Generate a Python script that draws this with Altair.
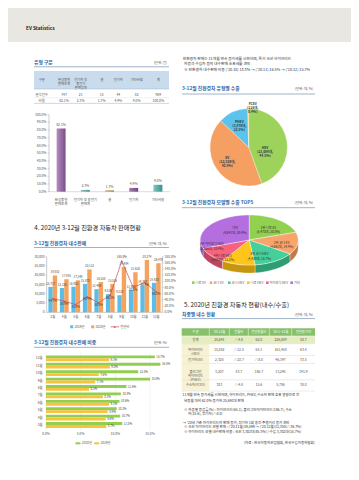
import altair as alt
import numpy as np
import pandas as pd

FONT = "Noto Sans CJK KR"
MARGIN = 8
W, H = 343, 464


def X(v):
    return v - MARGIN


def Y(v):
    return v - MARGIN


# ---------------------------------------------------------------- data
type_cats = ["완성품형 판매조계", "전기차 및 충전기 판매계", "셀", "전기차", "기타사항"]
type_cat_text = ["완성품형\n판매조계", "전기차 및 충전기\n판매계", "셀", "전기차", "기타사항"]
type_counts = [747, 21, 15, 44, 82]
type_share = [82.1, 2.3, 1.7, 4.9, 9.0]
type_total = 909
table1_head = ["구분", "완성품형\n판매조계", "전기차 및\n충전기\n판매업체", "셀", "전기차", "기타사항", "계"]
table1_rows = ["분석건수", "비율"]

exp_types = ["HEV", "EV", "PHEV", "FCEV"]
exp_units = [13086, 12528, 3678, 118]
exp_share = [44.5, 42.6, 12.5, 0.4]

models = ["니로 EV", "코나 EV", "코나 HEV", "니로 HEV", "아이오닉 HEV", "기타"]
model_rank = ["1위 니로 EV", "2위 코나 EV", "3위 코나 HEV", "4위 니로 HEV", "5위 아이오닉 HEV", "기타"]
model_units = [6473, 4661, 4435, 3593, 3366, 9841]
model_share = [20.0, 14.4, 13.7, 11.1, 10.4, 30.4]

months = ["3월", "4월", "5월", "6월", "7월", "8월", "9월", "10월", "11월", "12월"]
sales_2019 = [13717, 13138, 13802, 15370, 12499, 9826, 9210, 11973, 14397, 15920]
sales_2020 = [19852, 17855, 17249, 23113, 16323, 15326, 24484, 21620, 28274, 26478]
yoy = [44.7, 35.9, 25.0, 50.4, 30.6, 56.0, 165.8, 80.6, 96.4, 66.3]
left_ticks = [0, 5000, 10000, 15000, 20000, 25000, 30000]
right_ticks = [0, 20, 40, 60, 80, 100, 120, 140, 160, 180]

share_months = ["12월", "11월", "10월", "9월", "8월", "7월", "6월", "5월", "4월", "3월"]
share_2020 = [15.7, 16.5, 13.3, 15.0, 11.6, 10.8, 10.6, 10.2, 10.7, 11.0]
share_2019 = [9.1, 9.2, 7.6, 7.1, 6.2, 8.2, 9.1, 8.9, 8.6, 8.7]
share_ticks = [0, 5, 10, 15]

t2_head = ["구 분", "'20.12월", "전월비", "전년동월비", "'20.1~12월", "전년동기비"]
t2_labels = ["합계", "하이브리드\n(HEV)", "전기차(EV)", "플러그인\n하이브리드\n(PHEV)", "수소차(FCEV)"]
t2_values = [
    ["25,691", "△4.8", "62.0", "226,889", "58.7"],
    ["15,882", "△12.5", "65.1", "161,450", "63.4"],
    ["2,328", "△33.7", "△8.0", "46,197", "33.5"],
    ["3,207", "83.7", "186.7", "13,295", "191.9"],
    ["323", "△4.8", "15.6", "5,786", "38.0"],
]

intro_lines = [
    "친환경차 판매는 11개월 연속 증가세를 시현하며, 특히 국산 하이브리드",
    "차종과 수입차 등의 내수판매 호조세를 견인",
    "※ 친환경차 내수판매 비중 ('20.10) 13.3% → ('20.11) 16.5% → ('20.12) 15.7%",
]
note_lines = [
    "11개월 연속 증가세를 시현하며, 하이브리드, PHEV, 수소차 판매 호조 영향으로 전",
    "년동월 대비 62.0% 증가한 25,691대 판매",
    "※ 차종별 증감률(%) : 하이브리드(65.1), 플러그인하이브리드(186.7), 수소",
    "차(15.6), 전기차(△8.0)",
    "→ '20년 기준 하이브리드차 판매 증가, 전기차 1회 충전 주행거리 증가 견인",
    "※ 국산 하이브리드 모델 판매 : ('20.11월)19,499 → ('20.12월)12,350(△36.7%)",
    "※ 하이브리드 모델 내수판매 비중 : 국산 3,302대(85.3%) / 수입 3,302대(14.7%)",
]
source_text = "(자료 : 한국자동차산업협회, 한국수입자동차협회)"

# ---------------------------------------------------------------- styles
TITLE_C = "#2f67a8"
GREY = "#555555"
DARK = "#333333"
RULE_C = "#9fb2c8"
BAR1_LIGHT = ["#b58dc0", "#84cbc4", "#e0a865", "#a67db0", "#7ec8c2"]
BAR1_DARK = ["#7a4d88", "#3f928b", "#a86d2c", "#6f4580", "#3d8f89"]
PIE1_COLORS = ["#9dd35b", "#f59f62", "#5cc3ec", "#f2c94c"]
PIE2_COLORS = ["#92d050", "#f8a56c", "#45cf9b", "#ffc51a", "#f7627f", "#b46ee0"]
PIE2_SIDE = ["#6e9d3c", "#c07a4c", "#2f9c74", "#c7960f", "#bd4760", "#8750ab"]
C2019, C2020, CLINE = "#5bbde8", "#f4a25c", "#c8504f"
HB2020, HB2019 = "#92cf4f", "#f8c23e"

layers = []
ONE = pd.DataFrame({"k": [0]})


def add(ch):
    layers.append(ch)


def txt(x, y, s, size=3.8, color=GREY, weight="normal", align="left", baseline="middle", lh=None):
    kw = dict(text=s, fontSize=size, color=color, fontWeight=weight, align=align,
              baseline=baseline, font=FONT)
    if "\n" in s:
        kw["lineBreak"] = "\n"
        kw["lineHeight"] = lh or size * 1.2
    add(alt.Chart(ONE).mark_text(**kw).encode(x=alt.value(X(x)), y=alt.value(Y(y))))


def box(x1, y1, x2, y2, color):
    add(alt.Chart(ONE).mark_rect(color=color).encode(
        x=alt.value(X(x1)), x2=alt.value(X(x2)), y=alt.value(Y(y1)), y2=alt.value(Y(y2))))


def rule(x1, y1, x2, y2, color, w=0.6):
    add(alt.Chart(ONE).mark_rule(color=color, strokeWidth=w).encode(
        x=alt.value(X(x1)), x2=alt.value(X(x2)), y=alt.value(Y(y1)), y2=alt.value(Y(y2))))


def section_title(x, y, s, unit, xr, yl):
    txt(x, y, s, size=4.8, color=TITLE_C, weight="bold")
    txt(xr, y, unit, size=3.4, color=GREY, align="right")
    rule(x, yl, xr + 2, yl, RULE_C, 1.0)


# ---------------------------------------------------------------- header band
box(0, MARGIN, 359, 42, "#e8e7e2")
txt(26, 29, "EV Statistics", size=4.8, color="#222222", weight="bold")

# ---------------------------------------------------------------- table 1
section_title(34, 62.7, "유형 구분", "(단위: 건)", 167, 66.8)
box(34, 71, 169, 89, "#c9dcee")
col_x = [41.7, 64, 80.7, 101.7, 118.3, 136.7, 158.3]
for cx, h in zip(col_x, table1_head):
    txt(cx, 80, h, size=3.3, color=GREY, align="center")
row1 = [table1_rows[0]] + [str(v) for v in type_counts] + [str(type_total)]
row2 = [table1_rows[1]] + [f"{v:.1f}%" for v in type_share] + [f"{sum(type_share):.1f}%"]
for cx, s in zip(col_x, row1):
    txt(cx, 95, s, size=3.4, color=GREY, align="center")
for cx, s in zip(col_x, row2):
    txt(cx, 100.6, s, size=3.4, color=GREY, align="center")
rule(34, 89, 169, 89, "#9fb2c8", 0.5)
rule(34, 97.8, 169, 97.8, "#d8dde3", 0.4)
rule(34, 103.4, 169, 103.4, "#9fb2c8", 0.5)

# ---------------------------------------------------------------- bar chart 1
df_t = pd.DataFrame({"cat": type_cats, "txt": type_cat_text, "v": type_share})
df_t["lab"] = df_t["v"].map(lambda v: f"{v:.1f}%")
xs1 = alt.Scale(domain=type_cats, range=[X(49), X(170)], paddingInner=0.63, paddingOuter=0.315)
ys1 = alt.Scale(domain=[0, 100], range=[Y(191.7), Y(114.7)])
df_t1 = pd.DataFrame({"t": list(range(0, 101, 10))})
df_t1["lab"] = df_t1["t"].map(lambda v: f"{v:.1f}%")
add(alt.Chart(df_t1).mark_text(align="right", baseline="middle", fontSize=3.4, color=GREY, font=FONT).encode(
    x=alt.value(X(46.5)), y=alt.Y("t:Q", scale=ys1, axis=None), text="lab:N"))
add(alt.Chart(df_t1).mark_rule(color="#999999", strokeWidth=0.4).encode(
    x=alt.value(X(47.6)), x2=alt.value(X(49)), y=alt.Y("t:Q", scale=ys1, axis=None)))
rule(49, 114.7, 49, 191.7, "#999999", 0.5)
rule(49, 191.7, 170, 191.7, "#bbbbbb", 0.5)
for cat, lc, dc in zip(type_cats, BAR1_LIGHT, BAR1_DARK):
    grad = alt.Gradient(gradient="linear", x1=0, x2=1, y1=0, y2=0,
                        stops=[alt.GradientStop(color=lc, offset=0),
                               alt.GradientStop(color=dc, offset=1)])
    add(alt.Chart(df_t).transform_filter(alt.datum.cat == cat).mark_bar(color=grad).encode(
        x=alt.X("cat:N", scale=xs1, axis=None, sort=None),
        y=alt.Y("v:Q", scale=ys1, axis=None)))
add(alt.Chart(df_t).mark_text(baseline="bottom", dy=-1.5, fontSize=3.4, color=GREY, font=FONT).encode(
    x=alt.X("cat:N", scale=xs1, axis=None, sort=None),
    y=alt.Y("v:Q", scale=ys1, axis=None), text="lab:N"))
add(alt.Chart(df_t).mark_text(baseline="top", fontSize=3.4, color=GREY, font=FONT, lineBreak="\n",
                               lineHeight=4.6).encode(
    x=alt.X("cat:N", scale=xs1, axis=None, sort=None), y=alt.value(Y(197.5)), text="txt:N"))

# ---------------------------------------------------------------- intro text (right)
for i, s in enumerate(intro_lines):
    txt(182.7 if i == 0 else 184, 59 + i * 5.4, s, size=3.75, color=DARK)

# ---------------------------------------------------------------- pie 1
section_title(182, 89.3, "3-12월 친환경차 유형별 수출", "(단위: 대, %)", 313, 94)
df_e = pd.DataFrame({"type": exp_types, "units": exp_units, "share": exp_share,
                     "idx": list(range(len(exp_types)))})
add(alt.Chart(df_e).mark_arc(outerRadius=38.7, stroke="white", strokeWidth=0.3).encode(
    theta=alt.Theta("units:Q", stack=True),
    order=alt.Order("idx:Q"),
    color=alt.Color("type:N", scale=alt.Scale(domain=exp_types, range=PIE1_COLORS), legend=None),
    x=alt.value(X(248.7)), y=alt.value(Y(147.3))))
pie1_lab_pos = [(265, 148.3), (227.3, 157.7), (239.3, 121.5), (252.7, 104.3)]
for (lx, ly), t, u, s in zip(pie1_lab_pos, exp_types, exp_units, exp_share):
    txt(lx, ly, f"{t}\n({u:,}대,\n{s:.1f}%)", size=3.3, color="#2b3a4a", weight="bold", align="center", lh=4.0)

# ---------------------------------------------------------------- 3D pie
section_title(182, 202.7, "3-12월 친환경차 모델별 수출 TOP5", "(단위: 대, %)", 313, 207.7)
DEPTH = 8 / 25.0


def pie3d_frames(names, vals, depth):
    total = float(sum(vals))
    top, side = [], []
    start = 0.0
    for name, v in zip(names, vals):
        end = start + 2 * np.pi * v / total
        ts = np.linspace(start, end, max(4, int(80 * (end - start) / np.pi)))
        pts = [(0.0, 0.0)] + [(np.sin(t), -np.cos(t)) for t in ts] + [(0.0, 0.0)]
        top += [dict(name=name, i=i, u=a, w=b) for i, (a, b) in enumerate(pts)]
        lo, hi = max(start, np.pi / 2), min(end, 1.5 * np.pi)
        if hi > lo:
            ts2 = np.linspace(lo, hi, max(4, int(80 * (hi - lo) / np.pi)))
            edge = [(np.sin(t), -np.cos(t)) for t in ts2]
            poly = edge + [(a, b + depth) for a, b in edge[::-1]] + [edge[0]]
            side += [dict(name=name, i=i, u=a, w=b) for i, (a, b) in enumerate(poly)]
        start = end
    return pd.DataFrame(top), pd.DataFrame(side)


df_top, df_side = pie3d_frames(models, model_units, DEPTH)
xs3 = alt.Scale(domain=[-1, 1], range=[X(200.2), X(298.2)])
ys3 = alt.Scale(domain=[-1, 1], range=[Y(215), Y(265)])
add(alt.Chart(df_side).mark_line(filled=True, stroke="white", strokeWidth=0.3).encode(
    x=alt.X("u:Q", scale=xs3, axis=None), y=alt.Y("w:Q", scale=ys3, axis=None),
    color=alt.Color("name:N", scale=alt.Scale(domain=models, range=PIE2_SIDE), legend=None),
    order=alt.Order("i:Q")))
add(alt.Chart(df_top).mark_line(filled=True, stroke="white", strokeWidth=0.4).encode(
    x=alt.X("u:Q", scale=xs3, axis=None), y=alt.Y("w:Q", scale=ys3, axis=None),
    color=alt.Color("name:N", scale=alt.Scale(domain=models, range=PIE2_COLORS), legend=None),
    order=alt.Order("i:Q")))
pie2_lab_pos = [(268.3, 227.8), (281.7, 242.5), (259.3, 254.2), (222.7, 255.8), (211.7, 244.2), (235, 228.3)]
for (lx, ly), r, u, s in zip(pie2_lab_pos, model_rank, model_units, model_share):
    txt(lx, ly, f"{r}\n({u:,}대, {s:.1f}%)", size=3.2, color="#2b2b2b", align="center", lh=4.6)
leg_x = [193.3, 211, 229.3, 248.3, 267.3, 291.7]
for lx, m, c in zip(leg_x, models, PIE2_COLORS):
    box(lx - 1.3, 281.4, lx + 1.3, 284, c)
    txt(lx + 2.3, 282.7, m, size=3.2, color=GREY)

# ---------------------------------------------------------------- section 4 combo chart
txt(34.3, 228.3, "4. 2020년 3-12월 친환경 자동차 판매현황", size=6.2, color="#1a1a1a")
section_title(34, 244.3, "3-12월 친환경차 내수판매", "(단위: 대, %)", 167, 247.5)
ser = ["2019년", "2020년"]
df_s = pd.DataFrame({"month": months * 2,
                     "series": [ser[0]] * len(months) + [ser[1]] * len(months),
                     "value": sales_2019 + sales_2020})
df_s["lab"] = df_s["value"].map(lambda v: f"{v:,}")
df_y = pd.DataFrame({"month": months, "yoy": yoy})
df_y["lab"] = df_y["yoy"].map(lambda v: f"{v:.1f}%")
df_y["peak"] = df_y["yoy"] == df_y["yoy"].max()
xsc = alt.Scale(domain=months, range=[X(47), X(162)], paddingInner=0.24, paddingOuter=0.12)
ysl = alt.Scale(domain=[0, 30000], range=[Y(312.3), Y(256.7)])
ysr = alt.Scale(domain=[0, 180], range=[Y(312.3), Y(256.7)])
xoff = alt.XOffset("series:N", scale=alt.Scale(domain=ser))
df_lt = pd.DataFrame({"t": left_ticks})
df_lt["lab"] = df_lt["t"].map(lambda v: f"{v:,}")
df_rt = pd.DataFrame({"t": right_ticks})
df_rt["lab"] = df_rt["t"].map(lambda v: f"{v:.1f}%")
add(alt.Chart(df_lt).mark_text(align="right", baseline="middle", fontSize=3.3, color=GREY, font=FONT).encode(
    x=alt.value(X(44.5)), y=alt.Y("t:Q", scale=ysl, axis=None), text="lab:N"))
add(alt.Chart(df_rt).mark_text(align="left", baseline="middle", fontSize=3.3, color=GREY, font=FONT).encode(
    x=alt.value(X(164.5)), y=alt.Y("t:Q", scale=ysr, axis=None), text="lab:N"))
add(alt.Chart(df_lt).mark_rule(color="#999999", strokeWidth=0.4).encode(
    x=alt.value(X(45.3)), x2=alt.value(X(46.7)), y=alt.Y("t:Q", scale=ysl, axis=None)))
add(alt.Chart(df_rt).mark_rule(color="#999999", strokeWidth=0.4).encode(
    x=alt.value(X(162.3)), x2=alt.value(X(163.7)), y=alt.Y("t:Q", scale=ysr, axis=None)))
rule(46.7, 256.7, 46.7, 312.3, "#999999", 0.5)
rule(162.3, 256.7, 162.3, 312.3, "#999999", 0.5)
rule(46.7, 312.3, 162.3, 312.3, "#999999", 0.5)
add(alt.Chart(df_s).mark_bar().encode(
    x=alt.X("month:N", scale=xsc, axis=None, sort=None), xOffset=xoff,
    y=alt.Y("value:Q", scale=ysl, axis=None),
    color=alt.Color("series:N", scale=alt.Scale(domain=ser, range=[C2019, C2020]), legend=None)))
add(alt.Chart(df_s).mark_text(baseline="bottom", dy=-1.2, fontSize=2.9, color="#444444", font=FONT).encode(
    x=alt.X("month:N", scale=xsc, axis=None, sort=None), xOffset=xoff,
    y=alt.Y("value:Q", scale=ysl, axis=None), text="lab:N"))
add(alt.Chart(df_y).mark_line(color=CLINE, strokeWidth=0.7).encode(
    x=alt.X("month:N", scale=xsc, axis=None, sort=None), y=alt.Y("yoy:Q", scale=ysr, axis=None)))
add(alt.Chart(df_y).mark_point(shape="triangle-up", filled=True, size=5, color=CLINE, opacity=1).encode(
    x=alt.X("month:N", scale=xsc, axis=None, sort=None), y=alt.Y("yoy:Q", scale=ysr, axis=None)))
add(alt.Chart(df_y).transform_filter(~alt.datum.peak).mark_text(
    baseline="top", dy=1.6, fontSize=2.9, color="#3a3a3a", font=FONT).encode(
    x=alt.X("month:N", scale=xsc, axis=None, sort=None), y=alt.Y("yoy:Q", scale=ysr, axis=None),
    text="lab:N"))
add(alt.Chart(df_y).transform_filter(alt.datum.peak).mark_text(
    baseline="bottom", dy=-1.6, fontSize=2.9, color="#3a3a3a", font=FONT).encode(
    x=alt.X("month:N", scale=xsc, axis=None, sort=None), y=alt.Y("yoy:Q", scale=ysr, axis=None),
    text="lab:N"))
add(alt.Chart(pd.DataFrame({"month": months})).mark_text(baseline="middle", fontSize=3.3, color=GREY,
                                                       font=FONT).encode(
    x=alt.X("month:N", scale=xsc, axis=None, sort=None), y=alt.value(Y(316.7)), text="month:N"))
# legend
box(70.2, 325.3, 73.2, 328.3, C2019)
txt(74.5, 326.8, ser[0], size=3.2, color=GREY)
box(91.2, 325.3, 94.2, 328.3, C2020)
txt(95.5, 326.8, ser[1], size=3.2, color=GREY)
rule(110.5, 326.8, 119, 326.8, CLINE, 0.7)
add(alt.Chart(ONE).mark_point(shape="triangle-up", filled=True, size=5, color=CLINE, opacity=1).encode(
    x=alt.value(X(114.7)), y=alt.value(Y(326.8))))
txt(120.3, 326.8, "전년비", size=3.2, color=GREY)

# ---------------------------------------------------------------- hbar chart
section_title(34, 342.7, "3-12월 친환경차 내수판매 비중", "(단위: %)", 167, 347.3)
hser = ["2020년", "2019년"]
df_h = pd.DataFrame({"month": share_months * 2,
                     "series": [hser[0]] * len(share_months) + [hser[1]] * len(share_months),
                     "v": share_2020 + share_2019})
df_h["lab"] = df_h["v"].map(lambda v: f"{v:.1f}%")
xsh = alt.Scale(domain=[0, 15], range=[X(46), X(150)])
ysh = alt.Scale(domain=share_months, range=[Y(354.6), Y(428.7)], paddingInner=0.22, paddingOuter=0.11)
yoff = alt.YOffset("series:N", scale=alt.Scale(domain=hser))
df_st = pd.DataFrame({"t": share_ticks})
df_st["lab"] = df_st["t"].map(lambda v: f"{v:.1f}%")
add(alt.Chart(df_st).mark_rule(color="#dddddd", strokeWidth=0.4).encode(
    x=alt.X("t:Q", scale=xsh, axis=None), y=alt.value(Y(352.5)), y2=alt.value(Y(430.5))))
add(alt.Chart(df_st).mark_text(baseline="middle", fontSize=3.3, color=GREY, font=FONT).encode(
    x=alt.X("t:Q", scale=xsh, axis=None), y=alt.value(Y(434.3)), text="lab:N"))
add(alt.Chart(df_h).mark_bar().encode(
    y=alt.Y("month:N", scale=ysh, axis=None, sort=None), yOffset=yoff,
    x=alt.X("v:Q", scale=xsh, axis=None),
    color=alt.Color("series:N", scale=alt.Scale(domain=hser, range=[HB2020, HB2019]), legend=None)))
add(alt.Chart(df_h).mark_text(align="left", baseline="middle", dx=1.5, fontSize=2.9, color="#444444",
                              font=FONT).encode(
    y=alt.Y("month:N", scale=ysh, axis=None, sort=None), yOffset=yoff,
    x=alt.X("v:Q", scale=xsh, axis=None), text="lab:N"))
add(alt.Chart(pd.DataFrame({"month": share_months})).mark_text(align="right", baseline="middle", fontSize=3.3,
                                                             color=GREY, font=FONT).encode(
    y=alt.Y("month:N", scale=ysh, axis=None, sort=None), x=alt.value(X(42.5)), text="month:N"))
box(75.5, 442.3, 80.5, 444.3, HB2020)
txt(81.8, 443.3, hser[0], size=3.2, color=GREY)
box(94.2, 442.3, 99.2, 444.3, HB2019)
txt(100.5, 443.3, hser[1], size=3.2, color=GREY)

# ---------------------------------------------------------------- section 5 table
txt(184, 305, "5. 2020년 친환경 자동차 현황(내수/수출)", size=6.2, color="#1a1a1a")
section_title(182, 315, "차종별 내수 현황", "(단위: 대, %)", 313, 318.6)
cb = [181.7, 209.3, 229.3, 248.3, 269.3, 291.7, 315]
rows_y = [(328.3, 335.7), (336.2, 343.5), (344, 355.3), (355.8, 363.2), (363.7, 379.6), (380.1, 390.8)]
box(cb[0], rows_y[0][0], cb[-1], rows_y[0][1], "#86c06a")
box(cb[0], rows_y[1][0], cb[-1], rows_y[1][1], "#e3edbf")
for (y0, y1) in rows_y[2:]:
    box(cb[0], y0, cb[1], y1, "#f7f2d3")
for (y0, y1) in rows_y[1:]:
    rule(cb[0], y1 + 0.25, cb[-1], y1 + 0.25, "#cfcfcf", 0.4)
for xb in cb[1:-1]:
    rule(xb, rows_y[0][0], xb, rows_y[0][1], "#ffffff", 0.5)
ccx = [(a + b) / 2 for a, b in zip(cb[:-1], cb[1:])]
for cx, h in zip(ccx, t2_head):
    txt(cx, (rows_y[0][0] + rows_y[0][1]) / 2, h, size=3.3, color="#ffffff", align="center")
for (y0, y1), lab, vals in zip(rows_y[1:], t2_labels, t2_values):
    ym = (y0 + y1) / 2
    txt(ccx[0], ym, lab, size=3.3, color=GREY, align="center", lh=4.4)
    for cx, v in zip(ccx[1:], vals):
        txt(cx, ym, v, size=3.4, color=GREY, align="center")

# ---------------------------------------------------------------- notes
note_y = [395, 400.5, 409.8, 414.3, 422.5, 427, 431.6]
note_x = [182.5, 184, 184, 188, 182.5, 184, 184]
for nx, ny, s in zip(note_x, note_y, note_lines):
    txt(nx, ny, s, size=3.5, color=DARK)
txt(315, 442.7, source_text, size=3.5, color=DARK, align="right")

# ---------------------------------------------------------------- assemble
chart = alt.layer(*layers).resolve_scale(
    x="independent", y="independent", color="independent",
    xOffset="independent", yOffset="independent", theta="independent",
).properties(
    width=W, height=H, padding=0, autosize=alt.AutoSizeParams(type="none"), background="white"
).configure(font=FONT).configure_view(stroke=None)

chart.save("out.html", embed_options={"renderer": "svg", "actions": False})
